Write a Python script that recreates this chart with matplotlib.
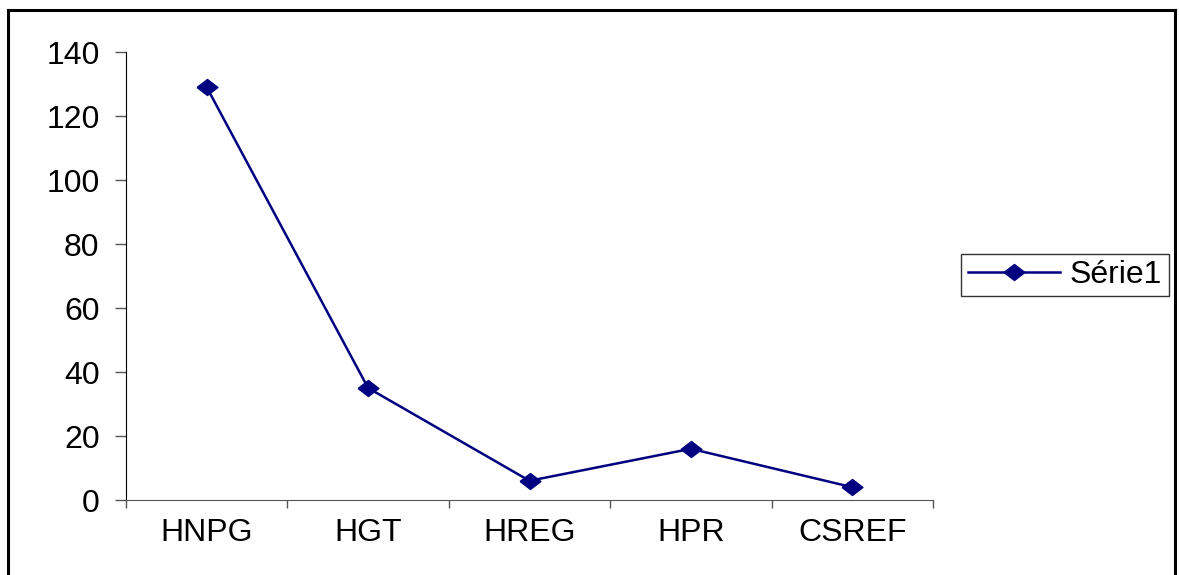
import matplotlib.pyplot as plt
from matplotlib.lines import Line2D
from matplotlib.ticker import FixedLocator, MultipleLocator

categories = ['HNPG', 'HGT', 'HREG', 'HPR', 'CSREF']
values = [129, 35, 6, 16, 4]
series_name = 'Série1'

plt.rcParams['font.family'] = ['Liberation Sans', 'DejaVu Sans']

W, H = 1179, 575
fig = plt.figure(figsize=(W / 100, H / 100), dpi=100)
ax = fig.add_axes([126 / W, 1 - 500 / H, (933 - 126) / W, (500 - 52) / H])

# slightly wide diamond marker
diamond = [(-1.3, 0), (0, 1), (1.3, 0), (0, -1), (-1.3, 0)]
x = [i + 0.5 for i in range(len(categories))]
ax.plot(x, values, color='#000080', lw=1.8, marker=diamond, ms=15,
        mfc='#000080', mec='#000080', label=series_name)

ax.set_xlim(0, len(categories))
ax.set_ylim(0, 140)
ax.yaxis.set_major_locator(MultipleLocator(20))

# category labels sit between the tick marks
ax.xaxis.set_major_locator(FixedLocator(range(len(categories) + 1)))
ax.xaxis.set_minor_locator(FixedLocator(x))
ax.set_xticklabels([], minor=False)
ax.set_xticklabels(categories, minor=True)
ax.tick_params(axis='x', which='major', length=6, width=1, color='#555555', direction='out')
ax.tick_params(axis='x', which='minor', length=0, pad=13, labelsize=23)
ax.tick_params(axis='y', length=8, width=1, color='#555555', direction='out', pad=11, labelsize=23)

for side in ('top', 'right'):
    ax.spines[side].set_visible(False)
ax.spines['left'].set_color('black')
ax.spines['bottom'].set_color('#555555')

leg = fig.legend(loc='center', bbox_to_anchor=(1065 / W, 1 - 275 / H), fontsize=23,
                 frameon=True, fancybox=False, handlelength=2.9, handletextpad=0.3,
                 borderpad=0.2, borderaxespad=0)
leg.get_frame().set_edgecolor('black')
leg.get_frame().set_linewidth(1.0)

# outer chart border
bx0, bx1, by1 = 8 / W, 1175 / W, 1 - 10 / H
for xs, ys in (([bx0, bx0], [0, by1]), ([bx0, bx1], [by1, by1]), ([bx1, bx1], [by1, 0])):
    fig.add_artist(Line2D(xs, ys, transform=fig.transFigure, color='black', lw=2.2))

fig.savefig('out.png', dpi=100)
plt.close(fig)
